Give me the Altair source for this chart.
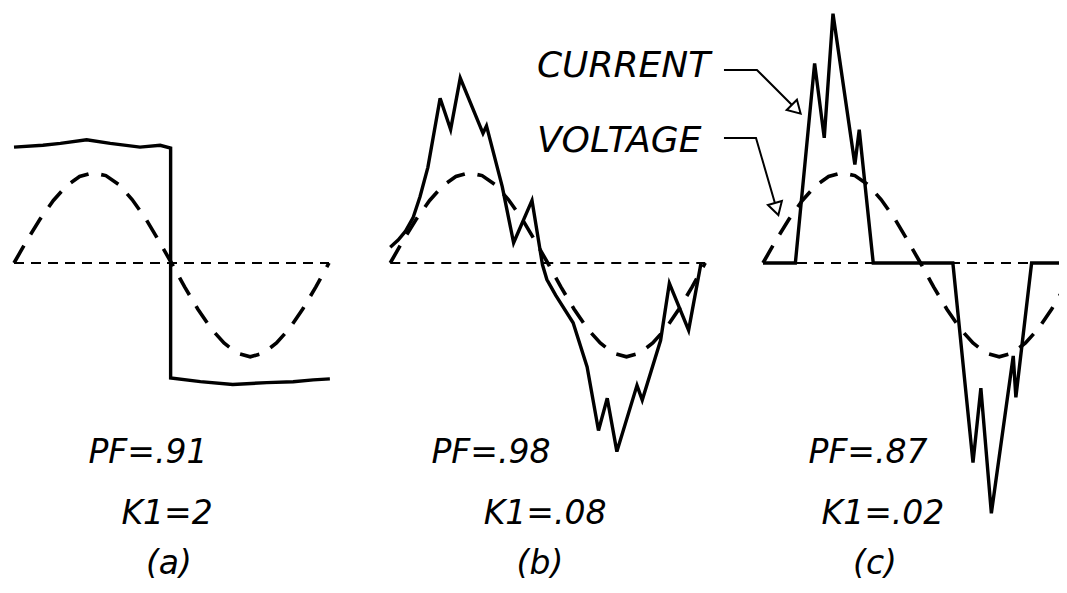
import altair as alt
import pandas as pd

# ---- data (angle in degrees within one cycle, amplitude in units of the voltage peak)
PANELS = ["a", "b", "c"]
PF_TEXT = ["PF=.91", "PF=.98", "PF=.87"]
K1_TEXT = ["K1=2", "K1=.08", "K1=.02"]
CAPTIONS = ["(a)", "(b)", "(c)"]

VOLT_DEG = [0, 15, 30, 45, 60, 75, 90, 105, 120, 135, 150, 165, 180,
            195, 210, 225, 240, 255, 270, 285, 300, 315, 330, 345, 360]
VOLT_AMP = [0, 0.25, 0.48, 0.68, 0.84, 0.94, 0.98, 0.95, 0.85, 0.69, 0.49, 0.25, 0,
            -0.26, -0.50, -0.71, -0.87, -0.98, -1.02, -0.98, -0.87, -0.71, -0.50, -0.26, 0]

CUR_A_DEG = [0, 33, 53, 83, 110, 144, 167, 179, 179, 213, 250, 289, 319, 342, 361]
CUR_A_AMP = [1.26, 1.28, 1.30, 1.34, 1.30, 1.26, 1.28, 1.25, -1.25, -1.29, -1.32, -1.30, -1.29, -1.27, -1.26]

CUR_B_DEG = [0, 9, 17, 26, 34, 43, 57, 69, 80, 106, 110, 128, 141, 162, 174, 179, 189,
             209, 225, 238, 248, 259, 282, 288, 309, 319, 341, 355]
CUR_B_AMP = [0.17, 0.25, 0.34, 0.49, 0.72, 1.04, 1.79, 1.45, 2.01, 1.41, 1.49, 0.83, 0.22,
             0.68, -0.02, -0.18, -0.35, -0.65, -1.13, -1.82, -1.47, -2.05, -1.33, -1.49,
             -0.84, -0.22, -0.73, -0.01]

CUR_C_DEG = [0, 37, 59, 70, 80, 105, 110, 126, 217, 240, 249, 261, 286, 289, 307, 360]
CUR_C_AMP = [0, 0, 2.17, 1.36, 2.71, 1.07, 1.45, 0, 0, -2.17, -1.36, -2.72, -1.01, -1.46, 0, 0]

# ---- layout: where each cycle sits along the shared horizontal axis (degrees)
PANEL_SHIFT = {"a": 0, "b": 430, "c": 856}


def frame(panel, degs, amps):
    return pd.DataFrame({
        "panel": panel,
        "i": range(len(degs)),
        "X": [PANEL_SHIFT[panel] + d for d in degs],
        "a": amps,
    })


current = pd.concat([frame("a", CUR_A_DEG, CUR_A_AMP),
                     frame("b", CUR_B_DEG, CUR_B_AMP),
                     frame("c", CUR_C_DEG, CUR_C_AMP)])
voltage = pd.concat([frame(p, VOLT_DEG, VOLT_AMP) for p in PANELS])
zero = pd.concat([frame(p, [0, 360], [0, 0]) for p in PANELS])

# annotation layout (in chart units)
leaders = pd.DataFrame({
    "name": ["CURRENT"] * 3 + ["VOLTAGE"] * 3,
    "i": [0, 1, 2, 0, 1, 2],
    "X": [811.4, 849.1, 894.0, 811.4, 848.0, 871.6],
    "a": [2.098, 2.098, 1.671, 1.359, 1.359, 0.587],
})
heads = pd.DataFrame({"X": [894.0, 871.6], "a": [1.671, 0.587], "ang": [135, 164]})
legend_txt = pd.DataFrame({"t": ["CURRENT", "VOLTAGE"], "X": [597.7, 597.7], "a": [2.141, 1.326]})

ROW_A = [-2.065, -2.728, -3.27]
labels = pd.DataFrame({
    "t": PF_TEXT + K1_TEXT + CAPTIONS,
    "X": [153.1, 545.1, 976.0, 174.9, 606.9, 993.1, 177.1, 601.1, 984.0],
    "a": [ROW_A[0]] * 3 + [ROW_A[1]] * 3 + [ROW_A[2]] * 3,
})

xs = alt.Scale(domain=[-6.86, 1194.3], nice=False, zero=False)
ys = alt.Scale(domain=[-3.5, 2.7717], nice=False, zero=False)
X = alt.X("X:Q", scale=xs, axis=None)
Y = alt.Y("a:Q", scale=ys, axis=None)

FONT = dict(font="DejaVu Sans", fontStyle="italic", fontWeight=200, color="black")

base_zero = alt.Chart(zero).mark_line(
    color="black", strokeWidth=2.2, strokeDash=[10, 7], clip=True
).encode(x=X, y=Y, detail="panel:N", order="i:Q")

volt = alt.Chart(voltage).mark_line(
    color="black", strokeWidth=3.6, strokeDash=[20, 13], clip=True
).encode(x=X, y=Y, detail="panel:N", order="i:Q")

cur = alt.Chart(current).mark_line(
    color="black", strokeWidth=3.4, strokeMiterLimit=4, clip=True
).encode(x=X, y=Y, detail="panel:N", order="i:Q")

lead = alt.Chart(leaders).mark_line(color="black", strokeWidth=2).encode(
    x=X, y=Y, detail="name:N", order="i:Q")

head = alt.Chart(heads).mark_point(
    shape="triangle-up", filled=False, stroke="black", fill="white", fillOpacity=1,
    strokeWidth=2, size=210, opacity=1
).encode(x=X, y=Y, angle=alt.Angle("ang:Q", scale=None))

leg = alt.Chart(legend_txt).mark_text(
    align="left", baseline="middle", fontSize=36, **FONT
).encode(x=X, y=Y, text="t:N")

lab = alt.Chart(labels).mark_text(
    align="center", baseline="middle", fontSize=33, **FONT
).encode(x=X, y=Y, text="t:N")

chart = alt.layer(base_zero, volt, cur, lead, head, leg, lab).properties(
    width=1051, height=577, padding=0, autosize="none"
).configure_view(stroke=None)

chart.save("out.html", embed_options={"renderer": "svg", "actions": False})
